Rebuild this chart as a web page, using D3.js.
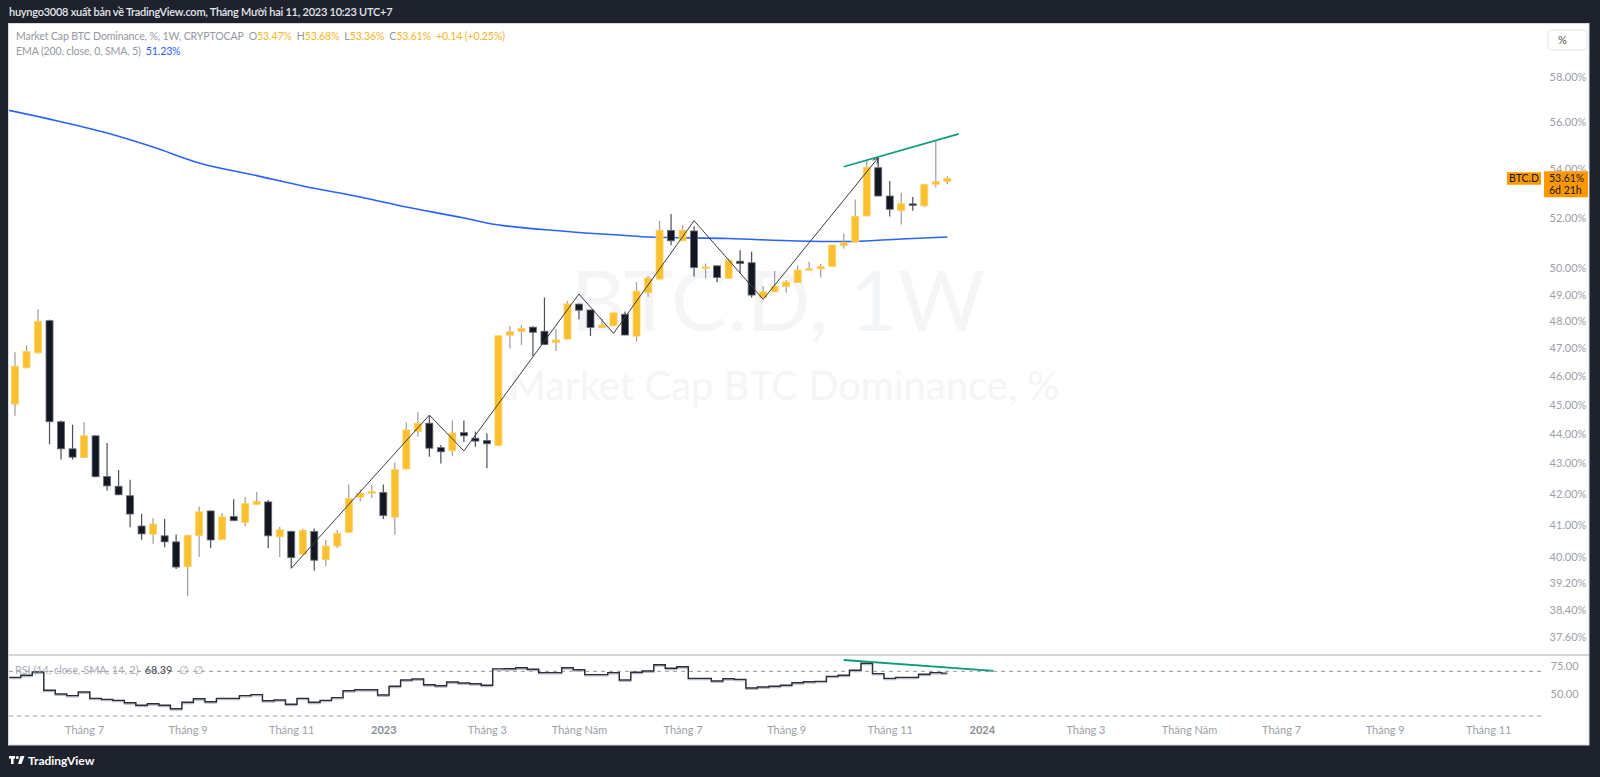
<!DOCTYPE html>
<html><head><meta charset="utf-8">
<script src="https://cdn.jsdelivr.net/npm/d3@7"></script>
<style>
body{margin:0;background:#1e222d;overflow:hidden;}
svg{display:block;font-family:Lato,"Open Sans",sans-serif;}
</style>
</head><body>
<svg id="chart" width="1600" height="777"></svg>
<script>
// ---------------- DATA ----------------
const firstWeek = "2022-05-23";
const lastWeek = "2023-12-11";

const opens = [45.02,46.30,46.84,48.02,44.41,43.49,43.20,43.93,42.57,42.25,
41.94,40.97,40.71,40.66,40.47,39.70,40.67,41.45,40.55,41.27,
41.08,41.66,41.74,40.63,40.80,40.09,40.80,39.92,40.34,40.77,
41.89,42.02,42.05,41.25,42.82,44.07,44.36,43.53,43.42,44.04,
43.85,43.77,43.60,47.48,47.62,47.78,47.63,47.21,47.34,48.64,
48.42,47.77,47.83,48.26,47.45,49.07,49.59,51.49,51.08,51.47,
50.02,50.10,49.62,50.28,50.22,48.88,49.10,49.30,49.46,49.94,
49.98,50.08,50.90,51.03,52.07,54.05,52.88,52.28,52.56,52.48,
53.36,53.47];
const highs = [46.86,47.11,48.45,48.06,44.45,44.31,44.40,43.95,43.69,42.78,
42.46,41.36,41.22,41.19,40.70,40.70,41.59,41.46,41.38,41.83,
41.90,42.06,41.80,40.94,40.82,40.88,40.89,40.53,40.84,42.31,
42.14,42.29,42.31,43.03,44.38,44.75,44.61,43.62,44.45,44.45,
44.07,44.02,47.48,47.82,47.86,47.80,48.89,47.71,48.75,48.66,
48.43,48.10,48.33,48.36,49.47,49.71,51.87,52.15,51.69,51.66,
50.19,50.11,50.39,50.71,50.65,49.32,49.90,49.55,50.12,50.26,
50.17,50.93,51.37,52.74,54.37,54.47,53.50,53.01,52.84,53.36,
55.22,53.68];
const lows = [44.62,46.28,46.82,43.64,43.13,43.13,43.18,42.55,42.10,41.96,
40.93,40.54,40.41,40.30,39.63,38.81,40.00,40.28,40.54,41.13,
40.96,41.65,40.27,40.00,39.65,40.08,39.58,39.72,40.28,40.76,
41.75,41.86,41.19,40.69,42.80,43.90,43.22,43.00,43.25,43.72,
43.56,42.84,43.58,47.00,47.12,46.73,47.12,46.91,47.32,48.07,
47.45,47.76,47.82,47.48,47.25,48.92,49.57,50.90,51.07,49.69,
49.62,49.47,49.61,49.81,48.89,48.87,49.09,49.07,49.45,49.93,
49.65,50.07,50.77,51.02,52.06,52.87,52.05,51.73,52.28,52.42,
53.23,53.36];
const closes = [46.36,46.89,48.00,44.41,43.49,43.21,43.93,42.56,42.26,41.97,
41.35,40.72,41.03,40.47,39.69,40.67,41.42,40.53,41.26,41.14,
41.69,41.75,40.66,40.85,39.98,40.83,39.90,40.34,40.74,41.85,
42.02,42.08,41.30,42.80,44.13,44.36,43.51,43.39,44.02,43.93,
43.75,43.66,47.46,47.61,47.74,47.59,47.14,47.31,48.65,48.41,
47.77,47.86,48.31,47.49,49.13,49.63,51.50,51.08,51.50,50.03,
50.06,49.65,50.32,50.19,48.98,49.10,49.32,49.48,49.94,49.99,
50.08,50.91,51.02,52.06,54.07,52.88,52.34,52.58,52.50,53.35,
53.47,53.61];

const rsiValues = [64.6,66.4,69.4,53.0,49.7,48.2,51.5,45.8,44.9,44.0,
41.9,39.6,41.0,39.6,36.5,42.3,45.5,42.8,45.8,45.8,
48.2,49.1,43.7,44.3,40.5,45.8,42.3,44.0,46.4,52.6,
53.5,53.5,48.8,56.6,62.2,63.1,58.0,57.1,60.4,59.5,
58.9,57.5,72.2,72.3,73.2,71.8,68.8,68.8,73.2,71.4,
67.0,67.0,68.8,62.2,69.1,70.3,75.9,72.7,74.1,63.7,
63.7,61.3,63.4,62.8,55.1,56.0,56.6,57.5,59.8,60.7,
61.0,65.5,66.4,70.9,77.2,67.9,63.7,64.6,64.6,67.3,
68.8,68.39];

const emaDates = ["2022-05-16","2022-06-13","2022-07-18","2022-08-15","2022-09-12","2022-10-17","2022-11-14","2022-12-19","2023-01-16","2023-02-20","2023-03-06","2023-04-24","2023-05-29","2023-06-12","2023-07-31","2023-09-11","2023-10-09","2023-11-13","2023-12-11"];
const emaValues = [56.55,56.12,55.52,54.92,54.25,53.72,53.29,52.84,52.43,51.99,51.79,51.45,51.29,51.23,51.17,51.07,51.05,51.15,51.23];

const zigzagDates = ["2022-11-07","2023-01-30","2023-02-20","2023-05-01","2023-05-22","2023-07-10","2023-08-21","2023-10-30"];
const zigzagValues = [39.65,44.64,43.42,49.02,47.55,51.88,48.82,54.47];

const trendDates = ["2023-10-09","2023-12-18"];
const trendValues = [54.09,55.48];
const rsiTrendDates = ["2023-10-09","2024-01-08"];
const rsiTrendValues = [80.1,70.3];

const priceTicks = [58,56,54,52,50,49,48,47,46,45,44,43,42,41,40,39.2,38.4,37.6];
const rsiTicks = [75,50];
const rsiBands = [70,30];
const timeTickDates = ["2022-07-04","2022-09-05","2022-11-07","2023-01-02","2023-03-06","2023-05-01","2023-07-03","2023-09-04","2023-11-06","2024-01-01","2024-03-04","2024-05-06","2024-07-01","2024-09-02","2024-11-04"];
const timeTickLabels = ["Tháng 7","Tháng 9","Tháng 11","2023","Tháng 3","Tháng Năm","Tháng 7","Tháng 9","Tháng 11","2024","Tháng 3","Tháng Năm","Tháng 7","Tháng 9","Tháng 11"];
const legendChange = "+0.14 (+0.25%)";
const countdown = "6d 21h";

// ---------------- LAYOUT ----------------
const frame = {l:8.5, t:23.5, r:1589, b:745};
const plotL = 9, plotR = 1543.5;
const main = {t:24, b:654.5};
const rsiPane = {t:655.5, b:722};
const UP = "#fbc02d", DOWN = "#131722";

const parse = d3.utcParse("%Y-%m-%d");
const weeks = d3.utcMonday.range(parse(firstWeek), d3.utcDay.offset(parse(lastWeek),1));
const candles = weeks.map((d,i)=>({date:d,o:opens[i],h:highs[i],l:lows[i],c:closes[i],rsi:rsiValues[i]}));

const x = d3.scaleUtc().domain([parse(firstWeek), parse(lastWeek)]).range([15, 947.3]);
const y = d3.scaleLog().domain([58, 37.6]).range([76.5, 637]);
const ry = d3.scaleLinear().domain([70, 30]).range([671.3, 716]);
const barStep = x(weeks[1]) - x(weeks[0]);

const svg = d3.select("#chart");
svg.append("rect").attr("width",1600).attr("height",777).attr("fill","#1e222d");
svg.append("rect").attr("x",frame.l).attr("y",frame.t).attr("width",frame.r-frame.l).attr("height",frame.b-frame.t)
  .attr("fill","#ffffff").attr("stroke","#d6d9e0");

const defs = svg.append("defs");
defs.append("clipPath").attr("id","clipMain").append("rect").attr("x",plotL).attr("y",main.t).attr("width",plotR-plotL).attr("height",main.b-main.t);
defs.append("clipPath").attr("id","clipRsi").append("rect").attr("x",plotL).attr("y",rsiPane.t).attr("width",plotR-plotL).attr("height",rsiPane.b-rsiPane.t);
defs.append("marker").attr("id","arrow").attr("viewBox","0 0 10 10").attr("refX",9).attr("refY",5)
  .attr("markerWidth",7).attr("markerHeight",7).attr("orient","auto").attr("markerUnits","userSpaceOnUse")
  .append("path").attr("d","M1,1 L9,5 L1,9").attr("fill","none").attr("stroke","#3a3d45").attr("stroke-width",1.2);

// header
svg.append("text").attr("x",9).attr("y",16).attr("fill","#e6e8ee").attr("font-size",11).attr("font-weight",600)
  .attr("letter-spacing",-0.25)
  .text("huyngo3008 xuất bản về TradingView.com, Tháng Mười hai 11, 2023 10:23 UTC+7");

// watermark
const wm = svg.append("g").attr("fill","#f4f5f7").attr("text-anchor","middle");
wm.append("text").attr("x",778).attr("y",331).attr("font-size",84).text("BTC.D, 1W");
wm.append("text").attr("x",784).attr("y",400).attr("font-size",40).text("Market Cap BTC Dominance, %");

// pane separator
svg.append("line").attr("x1",frame.l).attr("x2",frame.r).attr("y1",655).attr("y2",655).attr("stroke","#a9acb4");

// ---- main pane
const gm = svg.append("g").attr("clip-path","url(#clipMain)");

// EMA
gm.append("path").datum(emaDates.map((d,i)=>({date:parse(d),v:emaValues[i]})))
  .attr("fill","none").attr("stroke","#2962ff").attr("stroke-width",1.6)
  .attr("d", d3.line().x(d=>x(d.date)).y(d=>y(d.v)).curve(d3.curveMonotoneX));

// candles
const bodyW = 7;
gm.selectAll("line.wick").data(candles).join("line").attr("class","wick")
  .attr("x1",d=>x(d.date)).attr("x2",d=>x(d.date)).attr("y1",d=>y(d.h)).attr("y2",d=>y(d.l))
  .attr("stroke",d=>d.c>=d.o?"#9a9ca3":"#4a4e59").attr("stroke-width",1.2);
gm.selectAll("rect.body").data(candles).join("rect").attr("class","body")
  .attr("x",d=>x(d.date)-bodyW/2).attr("width",bodyW)
  .attr("y",d=>y(Math.max(d.o,d.c)))
  .attr("height",d=>Math.max(1.5, Math.abs(y(d.o)-y(d.c))))
  .attr("fill",d=>d.c>=d.o?UP:DOWN)
  .attr("stroke",d=>d.c>=d.o?"#fcd267":"#6a6d76").attr("stroke-width",0.8);

// zigzag drawing
gm.append("path").datum(zigzagDates.map((d,i)=>({date:parse(d),v:zigzagValues[i]})))
  .attr("fill","none").attr("stroke","#3a3d45").attr("stroke-width",1).attr("marker-end","url(#arrow)")
  .attr("d", d3.line().x(d=>x(d.date)).y(d=>y(d.v)));

// trend line main
gm.append("path").datum(trendDates.map((d,i)=>({date:parse(d),v:trendValues[i]})))
  .attr("fill","none").attr("stroke","#0f9b7c").attr("stroke-width",1.8)
  .attr("d", d3.line().x(d=>x(d.date)).y(d=>y(d.v)));

// price axis
const pa = svg.append("g").attr("transform",`translate(${plotR+6},0)`)
  .call(d3.axisRight(y).tickValues(priceTicks).tickFormat(d=>d.toFixed(2)+"%").tickSize(0).tickPadding(0));
pa.select(".domain").remove();
pa.selectAll("text").attr("fill","#9da0a8").attr("font-size",11).attr("font-family","Lato,'Open Sans',sans-serif");

// "%" button
svg.append("rect").attr("x",1548).attr("y",30).attr("width",39).attr("height",20).attr("rx",3)
  .attr("fill","#fff").attr("stroke","#e0e3eb");
svg.append("text").attr("x",1558).attr("y",44).attr("font-size",11).attr("fill","#555").text("%");

// last price labels
const lastC = candles[candles.length-1];
const ly = y(lastC.c);
svg.append("rect").attr("x",1507).attr("y",ly-6).attr("width",34).attr("height",12.5).attr("fill","#ff9800");
svg.append("text").attr("x",1524).attr("y",ly+4).attr("text-anchor","middle").attr("font-size",10.5).attr("fill","#131722").text("BTC.D");
svg.append("rect").attr("x",1544).attr("y",ly-7).attr("width",44).attr("height",26).attr("fill","#ff9800");
svg.append("text").attr("x",1549).attr("y",ly+4).attr("font-size",10.5).attr("fill","#131722").text(lastC.c.toFixed(2)+"%");
svg.append("text").attr("x",1549).attr("y",ly+16).attr("font-size",10.5).attr("fill","#131722").text(countdown);

// legend
const lg1 = svg.append("text").attr("x",16).attr("y",39.5).attr("font-size",10.6).attr("letter-spacing",-0.15).attr("fill","#9598a1");
lg1.append("tspan").text("Market Cap BTC Dominance, %, 1W, CRYPTOCAP");
const ohlc = [["O",lastC.o],["H",lastC.h],["L",lastC.l],["C",lastC.c]];
ohlc.forEach((p,i)=>{
  lg1.append("tspan").attr("dx",5).text(p[0]);
  lg1.append("tspan").attr("fill","#f7b52c").text(p[1].toFixed(2)+"%");
});
lg1.append("tspan").attr("dx",5).attr("fill","#f7b52c").text(legendChange);
const lg2 = svg.append("text").attr("x",16).attr("y",55).attr("font-size",10.6).attr("letter-spacing",-0.15).attr("fill","#9598a1");
lg2.append("tspan").text("EMA (200, close, 0, SMA, 5)");
lg2.append("tspan").attr("dx",5).attr("fill","#2962ff").text(emaValues[emaValues.length-1].toFixed(2)+"%");

// ---- RSI pane
const gr = svg.append("g").attr("clip-path","url(#clipRsi)");
gr.selectAll("line.band").data(rsiBands).join("line").attr("class","band")
  .attr("x1",plotL).attr("x2",plotR).attr("y1",d=>ry(d)).attr("y2",d=>ry(d))
  .attr("stroke","#9598a1").attr("stroke-dasharray","4,4").attr("stroke-width",1);

const stepPts = candles.flatMap(d=>[[x(d.date)-barStep/2, d.rsi],[x(d.date)+barStep/2, d.rsi]]);
stepPts[stepPts.length-1][0] = x(lastC.date);
const rline = d3.line().x(p=>p[0]).y(p=>ry(p[1]));
gr.append("path").datum(stepPts).attr("fill","none").attr("stroke","#b8bbc2").attr("stroke-width",1.3)
  .attr("transform","translate(0,1.3)").attr("d", rline);
gr.append("path").datum(stepPts).attr("fill","none").attr("stroke","#2a2e39").attr("stroke-width",1.4).attr("d", rline);

gr.append("path").datum(rsiTrendDates.map((d,i)=>({date:parse(d),v:rsiTrendValues[i]})))
  .attr("fill","none").attr("stroke","#0f9b7c").attr("stroke-width",1.8)
  .attr("d", d3.line().x(d=>x(d.date)).y(d=>ry(d.v)));

const ra = svg.append("g").attr("transform",`translate(${plotR+7},0)`)
  .call(d3.axisRight(ry).tickValues(rsiTicks).tickFormat(d=>d.toFixed(2)).tickSize(0).tickPadding(0));
ra.select(".domain").remove();
ra.selectAll("text").attr("fill","#9da0a8").attr("font-size",11).attr("font-family","Lato,'Open Sans',sans-serif");

const rl = svg.append("text").attr("x",15).attr("y",673.5).attr("font-size",10.8).attr("fill","#a8abb3");
rl.append("tspan").text("RSI (14, close, SMA, 14, 2)");
rl.append("tspan").attr("dx",6).attr("fill","#434651").text(rsiValues[rsiValues.length-1].toFixed(2));
rl.append("tspan").attr("dx",7).text("∅");
rl.append("tspan").attr("dx",5).text("∅");

// ---- time axis
const ta = svg.append("g").attr("transform",`translate(0,${rsiPane.b+4})`)
  .call(d3.axisBottom(x).tickValues(timeTickDates.map(parse)).tickFormat((d,i)=>timeTickLabels[i]).tickSize(0).tickPadding(0));
ta.select(".domain").remove();
ta.selectAll("text").attr("font-size",11).attr("font-family","Lato,'Open Sans',sans-serif")
  .attr("font-weight",(d,i)=>/^\d{4}$/.test(timeTickLabels[i])?700:400)
  .attr("fill",(d,i)=>/^\d{4}$/.test(timeTickLabels[i])?"#8a8d95":"#9da0a8");

// ---- TradingView footer logo
const logo = svg.append("g").attr("transform","translate(9,756)").attr("fill","#ffffff");
logo.append("rect").attr("x",0).attr("y",0).attr("width",6).attr("height",2.6);
logo.append("rect").attr("x",2).attr("y",0).attr("width",2.6).attr("height",8);
logo.append("circle").attr("cx",8.3).attr("cy",1.5).attr("r",1.5);
logo.append("path").attr("d","M11.5,0 L15.5,0 L12.5,8 L9,8 Z");
svg.append("text").attr("x",28).attr("y",765).attr("font-size",12).attr("font-weight",700).attr("fill","#ffffff").text("TradingView");
</script>
</body></html>
